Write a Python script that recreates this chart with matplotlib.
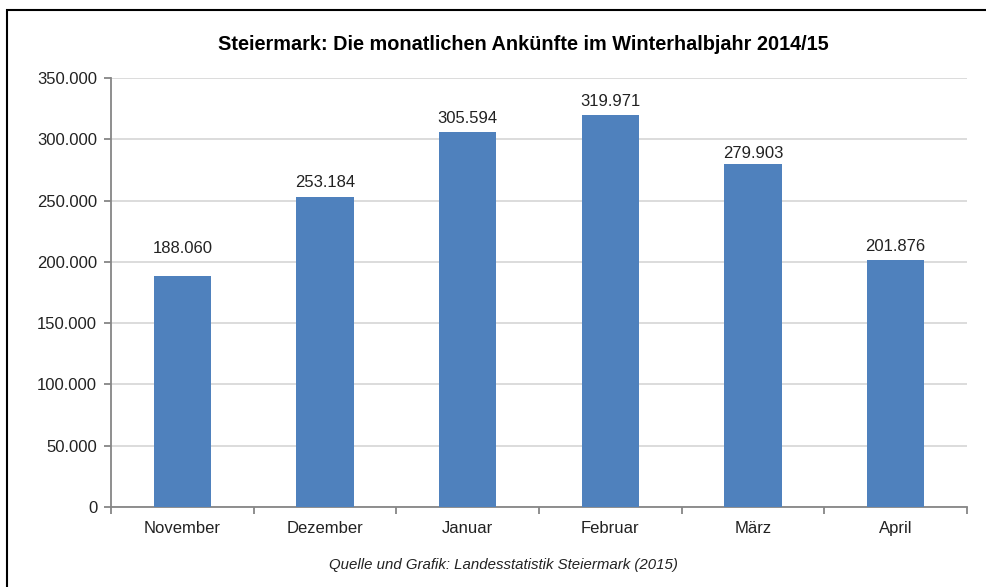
import matplotlib
matplotlib.use("Agg")
import matplotlib.pyplot as plt
from matplotlib.patches import Rectangle
from matplotlib.ticker import FuncFormatter, FixedLocator

plt.rcParams["font.family"] = ["Liberation Sans", "DejaVu Sans"]

# Data
months = ["November", "Dezember", "Januar", "Februar", "März", "April"]
arrivals = [188060, 253184, 305594, 319971, 279903, 201876]
# vertical gap of each data label above its bar (points), as placed in the original
label_offsets = [17, 7, 7, 6, 4.5, 6.5]
y_ticks = [0, 50000, 100000, 150000, 200000, 250000, 300000, 350000]

title = "Steiermark: Die monatlichen Ankünfte im Winterhalbjahr 2014/15"
source = "Quelle und Grafik: Landesstatistik Steiermark (2015)"


def de_fmt(v):
    return f"{int(v):,}".replace(",", ".")


text_color = "#222222"
bar_color = "#4F81BD"
grid_color = "#D9D9D9"
axis_color = "#868686"

fig = plt.figure(figsize=(9.87, 5.87), dpi=100)
ax = fig.add_axes([0.1125, 0.1363, 0.8672, 0.7308])

x = list(range(len(months)))
ax.bar(x, arrivals, width=0.40, color=bar_color, zorder=3)

for xi, v, off in zip(x, arrivals, label_offsets):
    ax.annotate(de_fmt(v), (xi, v), xytext=(0, off), textcoords="offset points",
                ha="center", va="baseline", fontsize=12, color=text_color)

ax.set_xlim(-0.5, len(months) - 0.5)
ax.set_ylim(0, 350000)
ax.set_yticks(y_ticks)
ax.yaxis.set_major_formatter(FuncFormatter(lambda v, p: de_fmt(v)))
ax.grid(axis="y", color=grid_color, linewidth=1.3, zorder=0)

# category labels at centres, tick marks at boundaries
ax.set_xticks(x)
ax.set_xticklabels(months)
ax.xaxis.set_minor_locator(FixedLocator([i - 0.5 for i in range(len(months) + 1)]))
ax.tick_params(axis="x", which="major", length=0, pad=10, labelsize=12, labelcolor=text_color)
ax.tick_params(axis="x", which="minor", length=5, width=1.3, color=axis_color, direction="out")
ax.tick_params(axis="y", length=5, width=1.3, color=axis_color, pad=5,
               labelsize=12, labelcolor=text_color)

for side in ["top", "right"]:
    ax.spines[side].set_visible(False)
for side in ["left", "bottom"]:
    ax.spines[side].set_color(axis_color)
    ax.spines[side].set_linewidth(1.3)

fig.text(523 / 987, 1 - 44 / 587, title, ha="center", va="center",
         fontsize=14.3, fontweight="bold", color="black")
fig.text(503 / 987, 1 - 565 / 587, source, ha="center", va="center",
         fontsize=10.8, fontstyle="italic", color=text_color)

# outer frame (cut off at right and bottom like the original)
frame_top = 1 - 10 / 587
fig.patches.append(Rectangle((7 / 987, -0.1), 1.2, frame_top + 0.1,
                             transform=fig.transFigure, fill=False,
                             edgecolor="black", linewidth=1.5))

fig.savefig("out.png", dpi=100)
